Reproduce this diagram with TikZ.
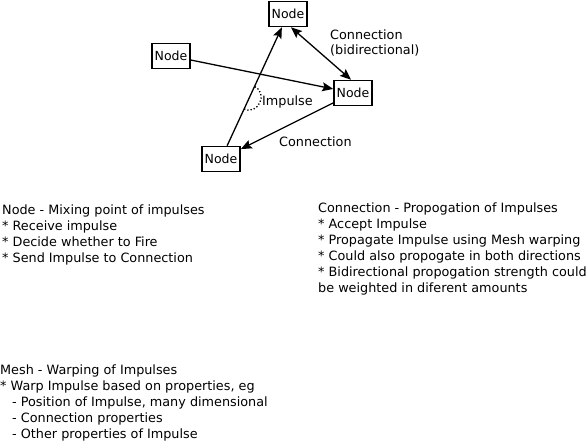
\documentclass[tikz,border=0pt]{standalone}
\usepackage{fontspec}
\setmainfont{DejaVu Sans}
\usepackage{tikz}
\usetikzlibrary{arrows.meta}

\begin{document}
\begin{tikzpicture}[x=1pt,y=-1pt,
  netnode/.style={draw,line width=1.6pt,minimum width=38pt,minimum height=25pt,inner sep=1pt,font=\fontsize{12.5}{14}\selectfont},
  conn/.style={line width=1.3pt,-{Stealth[length=11pt,width=9pt,inset=2pt]}},
  lbl/.style={font=\fontsize{12.8}{15}\selectfont,inner sep=0pt},
  notes/.style={anchor=north west,align=left,inner sep=0pt,font=\fontsize{12.8}{16}\selectfont}]
\useasboundingbox (0,0) rectangle (586,443);
% the four nodes
\node[netnode] (nodeTop) at (288,14) {Node};
\node[netnode] (nodeLeft) at (171,56) {Node};
\node[netnode] (nodeRight) at (353,93) {Node};
\node[netnode] (nodeBottom) at (221,159) {Node};
% connections
\draw[conn] (nodeLeft) -- (nodeRight);
\draw[conn] (nodeRight) -- (nodeBottom);
\draw[conn] (nodeBottom) -- (nodeTop)
   coordinate[pos=0.31] (imp1) coordinate[pos=0.5] (imp2);
\draw[conn,{Stealth[length=11pt,width=9pt,inset=2pt]}-{Stealth[length=11pt,width=9pt,inset=2pt]}]
   ([xshift=3pt]nodeTop.south) -- ([xshift=-2pt]nodeRight.north);
\draw[dotted,line width=1.3pt] (imp1) to[bend right=90,looseness=1.6] (imp2);
% labels
\node[lbl,anchor=west] (lblImpulse) at (262,102) {Impulse};
\node[lbl,anchor=west] (lblConn) at (279,142) {Connection};
\node[lbl,anchor=north west,align=left] (lblBidir) at (330,30) {Connection\\(bidirectional)};
% notes
\node[notes] (noteNode) at (2,205) {Node - Mixing point of impulses\\
* Receive impulse\\
* Decide whether to Fire\\
* Send Impulse to Connection};
\node[notes] (noteConn) at (318,203) {Connection - Propogation of Impulses\\
* Accept Impulse\\
* Propagate Impulse using Mesh warping\\
* Could also propogate in both directions\\
* Bidirectional propogation strength could\\
be weighted in diferent amounts};
\node[notes] (noteMesh) at (0,365) {Mesh - Warping of Impulses\\
* Warp Impulse based on properties, eg\\
\hspace*{12pt}- Position of Impulse, many dimensional\\
\hspace*{12pt}- Connection properties\\
\hspace*{12pt}- Other properties of Impulse};
\end{tikzpicture}
\end{document}
